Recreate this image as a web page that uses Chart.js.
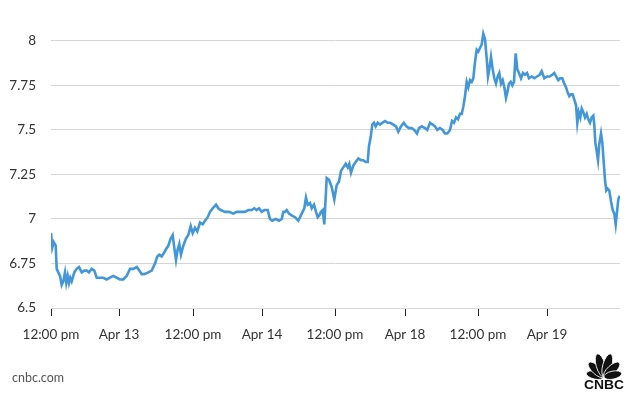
<!DOCTYPE html>
<html>
<head>
<meta charset="utf-8">
<script src="https://cdn.jsdelivr.net/npm/chart.js@4"></script>
<style>
  body { margin: 0; background: #fff; }
  #wrap { position: relative; width: 632px; height: 393px; }
  #footer { position: absolute; left: 12px; top: 370px; font: 12.5px Lato, sans-serif; color: #555; }
  #logo { position: absolute; left: 581px; top: 349px; }
</style>
</head>
<body>
<div id="wrap">
  <canvas id="chart" width="632" height="393"></canvas>
  <div id="footer">cnbc.com</div>
  <svg id="logo" width="46" height="42" viewBox="0 0 46 42">
    <g fill="#111" stroke="#fff" stroke-width="0.8" transform="translate(23,28)">
      <ellipse cx="0" cy="-9" rx="4" ry="9" transform="rotate(-78)"/>
      <ellipse cx="0" cy="-10.5" rx="4.3" ry="10.5" transform="rotate(-47)"/>
      <ellipse cx="0" cy="-12" rx="4.5" ry="12" transform="rotate(-16)"/>
      <ellipse cx="0" cy="-12" rx="4.5" ry="12" transform="rotate(16)"/>
      <ellipse cx="0" cy="-10.5" rx="4.3" ry="10.5" transform="rotate(47)"/>
      <ellipse cx="0" cy="-9" rx="4" ry="9" transform="rotate(78)"/>
    </g>
    <text x="23" y="40" text-anchor="middle" font-family="Liberation Sans, Arial, sans-serif" font-weight="bold" font-size="12" fill="#111" textLength="40" lengthAdjust="spacingAndGlyphs">CNBC</text>
  </svg>
</div>
<script>
// timeline position (session index) and price
const sessionIdx = [
  0, 1.3, 2.7, 4.7, 5.7, 7.3, 9, 10.7, 12.3, 14, 15.3, 16.7, 18, 19.3, 20.7, 23.3, 25.7, 28, 30.7, 33.3,
  35.7, 38, 40.7, 43.3, 45.7, 49, 52.3, 55.7, 59, 62.3, 65.7, 69, 72.3, 75.7, 79, 82.3, 85.7, 88.3, 90.7, 93.3,
  97.3, 100.7, 104, 106.3, 108.3, 110.7, 113, 115, 117.3, 119.7, 121.7, 123, 125, 126.7, 128.3, 130, 132.3, 135, 137.3, 139.7,
  141.7, 144, 146.3, 149, 151.7, 154, 156.7, 159, 161.7, 165, 167.3, 169.7, 174, 178.3, 182.3, 185.7,
  187.3, 190.7, 194, 197.3, 200.7, 203.3, 205.7, 208, 210.7, 213.3, 216.7, 219, 221.3, 224.7, 228, 230.7, 232.3, 234, 235.7, 238,
  240.7, 244, 247.3, 250.7, 253.3, 255, 256.7, 259, 260.7, 263, 265, 266.7, 268.3, 270, 271.7, 273.3,
  275.7, 278, 280.7, 283.3, 285.7, 288, 290, 292.3, 294.7, 296.7, 298.3, 300, 302.3, 304.7, 307.3, 310, 312.3, 314.7, 316.7, 318,
  319.7, 321.3, 323, 324.7, 326.7, 329, 331.3, 334, 336.7, 339.3, 342.3, 345, 347.3, 350, 352.7, 355.3, 358, 360.7, 363.3, 366,
  368, 370.7, 374, 376.3, 379, 381.7, 384, 386.3, 389, 391.7, 394, 396.3, 399, 401, 403, 405, 407, 409, 410.7, 412.3,
  414, 415.7, 417.3, 419, 420.7, 422.3, 424, 425.7, 427.3, 429, 430.7, 432.3, 434, 435.7, 437, 438.3, 440, 441.7, 443.3, 445,
  446.7, 448.3, 450, 451.7, 453.3, 455, 456.3, 458, 459.7, 461.3, 463, 464.7, 466.3,
  468, 470, 472, 474, 476, 478, 480.7, 483.3, 486, 488.7, 490.7, 493.3, 496, 498.7, 501.3, 503.3, 505.3, 507.3, 509.3, 511.3,
  513.3, 515, 516.7, 518.3, 520, 521.7, 523.3, 525, 526.3, 527.7, 529.3, 530.7, 532.3, 534, 535.7, 537.3, 539, 540.7, 542.3, 543.3,
  544.3, 545.7, 547, 548.3, 550, 551.3, 552.7, 554, 555.3, 556.7, 558.3, 560, 561.7, 563.3, 564.7, 566, 567.3, 568.7
];
const price = [
  6.92, 6.84, 6.87, 6.85, 6.72, 6.70, 6.68, 6.63, 6.65, 6.70, 6.64, 6.68, 6.64, 6.67, 6.65, 6.70, 6.72, 6.73, 6.70, 6.71,
  6.71, 6.70, 6.72, 6.71, 6.67, 6.67, 6.67, 6.66, 6.67, 6.68, 6.67, 6.66, 6.66, 6.68, 6.72, 6.72, 6.73, 6.71, 6.69, 6.69,
  6.70, 6.71, 6.75, 6.79, 6.80, 6.79, 6.81, 6.83, 6.85, 6.89, 6.91, 6.85, 6.77, 6.83, 6.86, 6.80, 6.85, 6.89, 6.91, 6.96,
  6.92, 6.95, 6.93, 6.98, 6.97, 6.99, 7.01, 7.04, 7.06, 7.08, 7.06, 7.05, 7.04, 7.04, 7.03, 7.04,
  7.04, 7.04, 7.04, 7.05, 7.05, 7.06, 7.05, 7.06, 7.04, 7.05, 7.05, 7.00, 6.99, 7.00, 6.99, 7.00, 7.04, 7.04, 7.05, 7.03,
  7.02, 7.01, 6.99, 7.03, 7.06, 7.12, 7.08, 7.09, 7.06, 7.08, 7.04, 7.01, 7.02, 7.04, 7.05, 6.97,
  7.23, 7.22, 7.18, 7.11, 7.19, 7.21, 7.27, 7.29, 7.31, 7.29, 7.31, 7.26, 7.30, 7.32, 7.34, 7.33, 7.33, 7.32, 7.32, 7.41,
  7.46, 7.53, 7.54, 7.52, 7.54, 7.53, 7.54, 7.55, 7.54, 7.54, 7.53, 7.52, 7.49, 7.52, 7.54, 7.52, 7.51, 7.51, 7.50, 7.48,
  7.51, 7.52, 7.51, 7.50, 7.54, 7.53, 7.52, 7.50, 7.51, 7.50, 7.48, 7.48, 7.50, 7.55, 7.54, 7.57, 7.56, 7.59, 7.59, 7.63,
  7.69, 7.77, 7.74, 7.78, 7.77, 7.79, 7.88, 7.95, 7.94, 7.96, 7.98, 8.04, 8.01, 7.90, 7.80, 7.84, 7.91, 7.84, 7.79, 7.76,
  7.80, 7.82, 7.76, 7.78, 7.74, 7.68, 7.71, 7.76, 7.77, 7.75, 7.77, 7.93, 7.84,
  7.82, 7.79, 7.82, 7.81, 7.82, 7.79, 7.80, 7.79, 7.80, 7.81, 7.83, 7.79, 7.80, 7.80, 7.81, 7.82, 7.80, 7.78, 7.79, 7.79,
  7.76, 7.74, 7.71, 7.69, 7.70, 7.70, 7.67, 7.64, 7.54, 7.60, 7.57, 7.62, 7.60, 7.57, 7.59, 7.56, 7.54, 7.57, 7.58, 7.53,
  7.43, 7.38, 7.33, 7.42, 7.48, 7.43, 7.32, 7.22, 7.16, 7.17, 7.16, 7.10, 7.05, 7.03, 6.97, 7.04, 7.11, 7.13
];

const xTickPos = [0, 68, 142, 211, 284, 354, 427, 496];
const xTickLabels = ['12:00 pm', 'Apr 13', '12:00 pm', 'Apr 14', '12:00 pm', 'Apr 18', '12:00 pm', 'Apr 19'];
const yTicks = [6.5, 6.75, 7, 7.25, 7.5, 7.75, 8];

const points = sessionIdx.map((x, i) => ({ x: x, y: price[i] }));

const ctx = document.getElementById('chart').getContext('2d');
new Chart(ctx, {
  type: 'line',
  data: {
    datasets: [{
      data: points,
      borderColor: '#4396d8',
      borderWidth: 2.6,
      pointRadius: 0,
      tension: 0,
      fill: false
    }]
  },
  options: {
    responsive: false,
    animation: false,
    layout: { padding: { top: 20, right: 12, bottom: 45, left: 0 } },
    plugins: {
      legend: { display: false },
      tooltip: { enabled: false }
    },
    scales: {
      x: {
        type: 'linear',
        min: 0,
        max: 569,
        afterBuildTicks: (s) => { s.ticks = xTickPos.map(v => ({ value: v })); },
        afterFit: (s) => { s.height = 40; },
        ticks: {
          autoSkip: false,
          maxRotation: 0,
          padding: 11,
          color: '#333',
          font: { family: 'Lato', size: 13.5 },
          callback: (v, i) => xTickLabels[i]
        },
        grid: {
          drawOnChartArea: false,
          drawTicks: true,
          tickLength: 8,
          color: '#222'
        },
        border: { display: false }
      },
      y: {
        min: 6.5,
        max: 8.1,
        afterBuildTicks: (s) => { s.ticks = yTicks.map(v => ({ value: v })); },
        afterFit: (s) => { s.width = 51; },
        ticks: {
          padding: 15,
          color: '#333',
          font: { family: 'Lato', size: 13.5 },
          callback: (v) => String(v)
        },
        grid: { color: '#d6d6d6', drawTicks: false },
        border: { display: false }
      }
    }
  }
});
</script>
</body>
</html>
